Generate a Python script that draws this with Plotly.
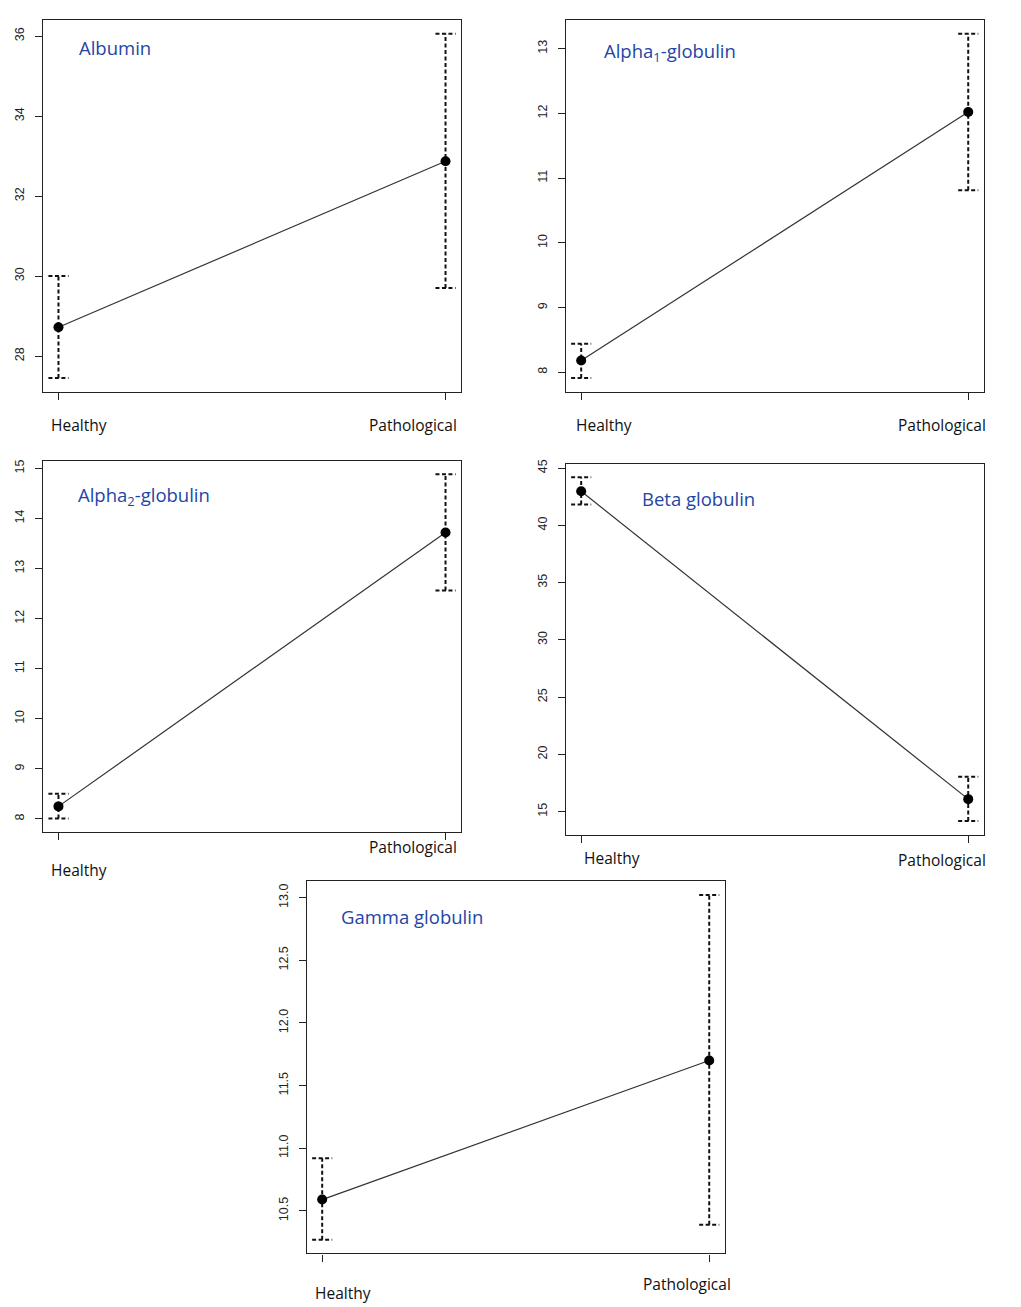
import plotly.graph_objects as go

# ---------------- data ----------------
categories = ["Healthy", "Pathological"]
cat_pos = [1, 2]

titles = ["Albumin", "Alpha<sub>1</sub>-globulin", "Alpha<sub>2</sub>-globulin",
          "Beta globulin", "Gamma globulin"]

albumin_mean = [28.72, 32.87]
albumin_lo = [27.45, 29.70]
albumin_hi = [30.00, 36.06]

alpha1_mean = [8.18, 12.02]
alpha1_lo = [7.91, 10.81]
alpha1_hi = [8.44, 13.23]

alpha2_mean = [8.25, 13.72]
alpha2_lo = [8.01, 12.56]
alpha2_hi = [8.50, 14.88]

beta_mean = [42.98, 16.10]
beta_lo = [41.83, 14.19]
beta_hi = [44.20, 18.06]

gamma_mean = [10.59, 11.70]
gamma_lo = [10.27, 10.39]
gamma_hi = [10.92, 13.02]

albumin_ticks = [28, 30, 32, 34, 36]
alpha1_ticks = [8, 9, 10, 11, 12, 13]
alpha2_ticks = [8, 9, 10, 11, 12, 13, 14, 15]
beta_ticks = [15, 20, 25, 30, 35, 40, 45]
gamma_ticks = [10.5, 11.0, 11.5, 12.0, 12.5, 13.0]
gamma_ticktext = ["10.5", "11.0", "11.5", "12.0", "12.5", "13.0"]

series = [
    (albumin_mean, albumin_lo, albumin_hi, albumin_ticks, [str(v) for v in albumin_ticks]),
    (alpha1_mean, alpha1_lo, alpha1_hi, alpha1_ticks, [str(v) for v in alpha1_ticks]),
    (alpha2_mean, alpha2_lo, alpha2_hi, alpha2_ticks, [str(v) for v in alpha2_ticks]),
    (beta_mean, beta_lo, beta_hi, beta_ticks, [str(v) for v in beta_ticks]),
    (gamma_mean, gamma_lo, gamma_hi, gamma_ticks, gamma_ticktext),
]

# ---------------- layout (pixel boxes in the page) ----------------
PAGE_W, PAGE_H = 1021, 1307
OFF = 8  # body margin of the html page
W, H = PAGE_W - OFF, PAGE_H - OFF
# box: left, right, top, bottom (page px)
boxes = [
    (43, 461, 16, 389),
    (565.7, 983.7, 16, 389),
    (43, 461, 458, 830.7),
    (565.7, 983.7, 461, 833.3),
    (306.7, 724.7, 880, 1253.3),
]
# title offsets from box top-left (px)
title_off = [(34, 28), (36, 32.3), (33.3, 35.3), (74.3, 34.7), (32, 35)]
# category label offsets: (xshift, below-box) for Healthy and Pathological
label_off = [
    [(20.5, 33), (-33, 33)],
    [(23, 32.7), (-26.5, 32.7)],
    [(20.5, 37.6), (-32.5, 15.3)],
    [(31, 23.4), (-26.3, 25)],
    [(21, 39.4), (-22, 31)],
]

CAP = 0.026
DASH = "4px,2.5px"
fig = go.Figure()
annotations = []
layout_axes = {}

for i, (mean, lo, hi, tv, tt) in enumerate(series):
    n = i + 1
    xa = "x" if n == 1 else f"x{n}"
    ya = "y" if n == 1 else f"y{n}"
    # error bars (dashed)
    for j, xp in enumerate(cat_pos):
        fig.add_trace(go.Scatter(
            x=[xp, xp], y=[lo[j], hi[j]], mode="lines",
            line=dict(color="#111", width=2, dash=DASH),
            xaxis=xa, yaxis=ya, showlegend=False, hoverinfo="skip"))
        for v in (lo[j], hi[j]):
            fig.add_trace(go.Scatter(
                x=[xp - CAP, xp + CAP], y=[v, v], mode="lines",
                line=dict(color="#111", width=2, dash=DASH),
                xaxis=xa, yaxis=ya, showlegend=False, hoverinfo="skip"))
    # mean line + points
    fig.add_trace(go.Scatter(
        x=cat_pos, y=mean, mode="lines+markers",
        line=dict(color="#333", width=1.2),
        marker=dict(color="black", size=10),
        xaxis=xa, yaxis=ya, showlegend=False))

    l, r, t, b = [v - OFF for v in boxes[i]]
    ymin, ymax = min(lo), max(hi)
    pad = 0.04 * (ymax - ymin)
    common = dict(showline=True, mirror=True, linecolor="#222", linewidth=1.3,
                  showgrid=False, zeroline=False, ticks="outside", ticklen=7,
                  tickwidth=1.3, tickcolor="#222")
    layout_axes[("xaxis" if n == 1 else f"xaxis{n}")] = dict(
        domain=[l / W, r / W], anchor=ya, range=[0.96, 2.04],
        tickvals=cat_pos, showticklabels=False, **common)
    layout_axes[("yaxis" if n == 1 else f"yaxis{n}")] = dict(
        domain=[1 - b / H, 1 - t / H], anchor=xa, range=[ymin - pad, ymax + pad],
        tickvals=tv, ticktext=tt, tickangle=-90, ticklabelstandoff=6,
        tickfont=dict(family="Liberation Sans, Arial", size=12.5, color="#222"),
        **common)

    tx, ty = title_off[i]
    annotations.append(dict(
        text=titles[i], xref=f"{xa} domain", yref=f"{ya} domain", x=0, y=1,
        xshift=tx, yshift=-ty, xanchor="left", yanchor="middle", showarrow=False,
        font=dict(family="Open Sans", size=18.5, color="#2345A6")))
    for j, xp in enumerate(cat_pos):
        dx, dy = label_off[i][j]
        annotations.append(dict(
            text=categories[j], xref=xa, yref=f"{ya} domain", x=xp, y=0,
            xshift=dx, yshift=-dy, xanchor="center", yanchor="middle",
            showarrow=False,
            font=dict(family="Open Sans", size=15.5, color="#111")))

fig.update_layout(
    width=W, height=H, margin=dict(l=0, r=0, t=0, b=0),
    paper_bgcolor="white", plot_bgcolor="white",
    annotations=annotations, **layout_axes)

fig.write_html("out.html")
